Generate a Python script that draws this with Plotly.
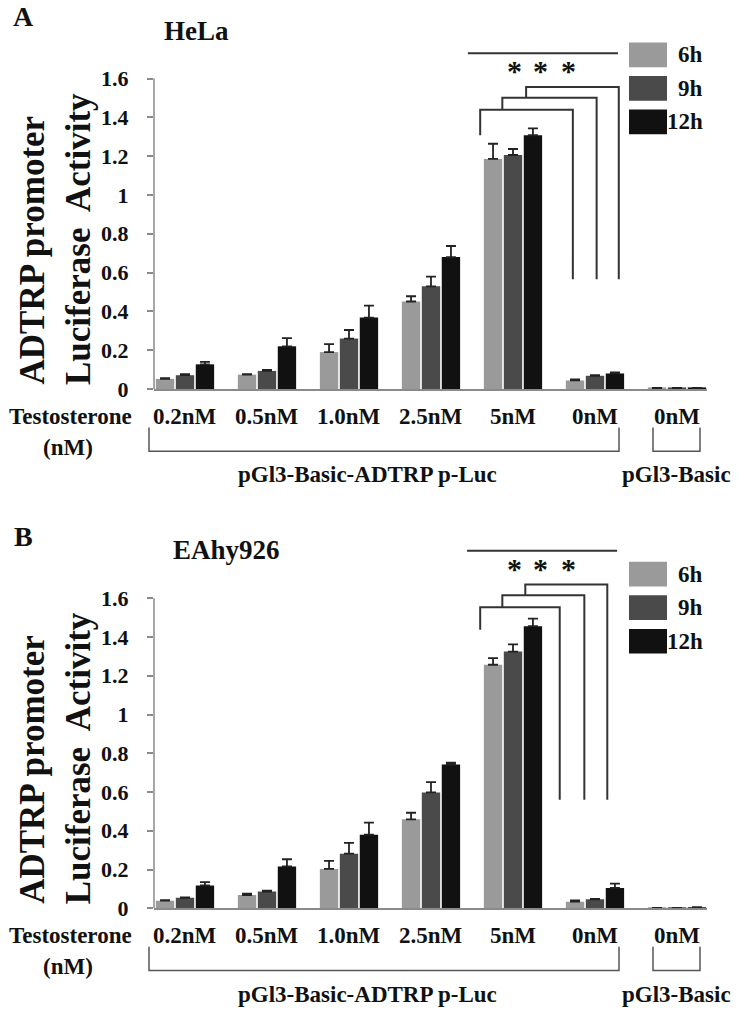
import plotly.graph_objects as go

W, H = 740, 1020

# ---------------- data ----------------
categories = ["0.2nM", "0.5nM", "1.0nM", "2.5nM", "5nM", "0nM", "0nM"]
series = ["6h", "9h", "12h"]
colors = ["#9a9a9a", "#4a4a4a", "#111111"]

hela_6h = [0.052, 0.074, 0.190, 0.451, 1.186, 0.044, 0.005]
hela_9h = [0.071, 0.093, 0.260, 0.529, 1.206, 0.068, 0.005]
hela_12h = [0.127, 0.220, 0.368, 0.680, 1.308, 0.080, 0.005]
hela_6h_err = [0.004, 0.003, 0.041, 0.027, 0.078, 0.005, 0.001]
hela_9h_err = [0.005, 0.005, 0.044, 0.050, 0.031, 0.003, 0.001]
hela_12h_err = [0.013, 0.042, 0.062, 0.057, 0.035, 0.005, 0.001]

eahy_6h = [0.039, 0.068, 0.203, 0.459, 1.257, 0.034, 0.002]
eahy_9h = [0.054, 0.086, 0.282, 0.598, 1.325, 0.046, 0.002]
eahy_12h = [0.118, 0.216, 0.380, 0.742, 1.456, 0.105, 0.005]
eahy_6h_err = [0.003, 0.008, 0.042, 0.034, 0.034, 0.006, 0.000]
eahy_9h_err = [0.002, 0.005, 0.056, 0.053, 0.037, 0.003, 0.000]
eahy_12h_err = [0.017, 0.037, 0.062, 0.010, 0.039, 0.022, 0.001]

ytick_vals = [0, 0.2, 0.4, 0.6, 0.8, 1.0, 1.2, 1.4, 1.6]
ytick_text = ["0", "0.2", "0.4", "0.6", "0.8", "1", "1.2", "1.4", "1.6"]

FONT = "Liberation Serif"
AXC = "#8a8a8a"
LINEC = "#333333"


def px(x):
    return x / W


def py(y):
    return 1 - y / H


fig = go.Figure()

panels = [
    dict(x="x", y="y", vals=[hela_6h, hela_9h, hela_12h],
         errs=[hela_6h_err, hela_9h_err, hela_12h_err]),
    dict(x="x2", y="y2", vals=[eahy_6h, eahy_9h, eahy_12h],
         errs=[eahy_6h_err, eahy_9h_err, eahy_12h_err]),
]
xpos = list(range(len(categories)))
for p in panels:
    for name, col, v, e in zip(series, colors, p["vals"], p["errs"]):
        fig.add_trace(go.Bar(
            x=xpos, y=v, name=name, xaxis=p["x"], yaxis=p["y"],
            marker=dict(color=col, line=dict(width=0)),
            error_y=dict(type="data", symmetric=False, array=e,
                         arrayminus=[0] * len(e), color="#222222",
                         thickness=1.8, width=5),
            showlegend=False, hoverinfo="skip",
        ))

xdom = [px(154), px(707)]
xrange_ = [-0.378, 6.366]
# panel A: zero at 394 px; panel B: zero at 920 px
yA = [py(394), py(394 - 1.9 * 196.5)]
yB = [py(920), py(920 - 1.9 * 196.25)]

common_x = dict(range=xrange_, showgrid=False, zeroline=False, showline=True,
                linecolor=AXC, linewidth=1.5, ticks="", showticklabels=False,
                fixedrange=True)
common_y = dict(range=[0, 1.9], showgrid=False, zeroline=False, showline=False,
                ticks="outside", ticklen=6, tickwidth=1.5, tickcolor=AXC,
                tickvals=ytick_vals, ticktext=ytick_text, ticklabelstandoff=14,
                fixedrange=True,
                tickfont=dict(family=FONT, size=22, color="#111", weight="bold"))

fig.update_layout(
    width=W, height=H, margin=dict(l=0, r=0, t=0, b=0), autosize=False,
    paper_bgcolor="white", plot_bgcolor="white",
    font=dict(family=FONT, color="#111", weight="bold"),
    barmode="group", bargap=0.27, bargroupgap=0.08,
    xaxis=dict(domain=xdom, anchor="y", **common_x),
    yaxis=dict(domain=yA, anchor="x", **common_y),
    xaxis2=dict(domain=xdom, anchor="y2", **common_x),
    yaxis2=dict(domain=yB, anchor="x2", **common_y),
)

shapes = []
annos = []


def text(x, y, t, size, xref="paper", yref="paper", xanchor="center",
         yanchor="middle", angle=0):
    annos.append(dict(xref=xref, yref=yref, x=x, y=y, text=t, showarrow=False,
                      xanchor=xanchor, yanchor=yanchor, textangle=angle,
                      font=dict(family=FONT, size=size, color="#111",
                                weight="bold")))


# y-axis lines (only up to 1.6)
for xr, yr in [("x domain", "y"), ("x2 domain", "y2")]:
    shapes.append(dict(type="line", xref=xr, yref=yr, x0=0, x1=0, y0=0, y1=1.6,
                       line=dict(color=AXC, width=1.5)))

# significance brackets (category units, value units)
sig = [
    dict(xr="x", yr="y", top=(3.45, 5.28, 1.73), star_y=1.64,
         brackets=[(3.60, 4.73, 1.440, 1.308), (3.87, 5.02, 1.501, 1.440),
                   (4.16, 5.29, 1.557, 1.501)], bottom=0.565),
    dict(xr="x2", yr="y2", top=(3.44, 5.27, 1.845), star_y=1.755,
         brackets=[(3.60, 4.57, 1.554, 1.437), (3.87, 4.87, 1.615, 1.554),
                   (4.15, 5.15, 1.671, 1.615)], bottom=0.56),
]
for s in sig:
    x0, x1, yt = s["top"]
    shapes.append(dict(type="line", xref=s["xr"], yref=s["yr"], x0=x0, x1=x1,
                       y0=yt, y1=yt, line=dict(color=LINEC, width=2)))
    for (bx0, bx1, by, bleft) in s["brackets"]:
        shapes.append(dict(type="path", xref=s["xr"], yref=s["yr"],
                           path=f"M {bx0} {bleft} L {bx0} {by} L {bx1} {by} L {bx1} {s['bottom']}",
                           line=dict(color=LINEC, width=2)))
    for sx in [4.02, 4.33, 4.68]:
        text(sx, s["star_y"], "*", 30, xref=s["xr"], yref=s["yr"])

# per-panel decorations (pixel offsets)
for off, letter, title, tx, xr in [(0, "A", "HeLa", 196, "x"),
                                     (526, "B", "EAhy926", 226, "x2")]:
    text(px(23), py(17 + off), letter, 28)
    text(px(tx), py(31 + off), title, 27)
    # y-axis title, two lines, bottom aligned
    text(px(33), py(392 + off), "ADTRP promoter", 35, yanchor="bottom", angle=-90)
    text(px(78), py(392 + off), "Luciferase  Activity", 35, yanchor="bottom",
         angle=-90)
    # category labels
    for i, c in enumerate(categories):
        text(i, py(422 + off), c, 23, xref=xr)
    text(px(70), py(422 + off), "Testosterone", 23)
    text(px(68), py(453 + off), "(nM)", 23)
    text(px(367), py(481 + off), "pGl3-Basic-ADTRP p-Luc", 23)
    text(px(676), py(481 + off), "pGl3-Basic", 23)
    # grouping brackets under labels
    for (bx0, bx1) in [(149, 619), (653, 700)]:
        shapes.append(dict(type="path", xref="paper", yref="paper",
                           path=(f"M {px(bx0)} {py(433 + off)} L {px(bx0)} {py(457 + off)} "
                                 f"L {px(bx1)} {py(457 + off)} L {px(bx1)} {py(433 + off)}"),
                           line=dict(color="#555", width=1.5)))
    # legend boxes
    for (name, col, ytop) in [("6h", colors[0], 43), ("9h", colors[1], 77),
                              ("12h", colors[2], 111)]:
        shapes.append(dict(type="rect", xref="paper", yref="paper",
                           x0=px(629), x1=px(667), y0=py(ytop + off),
                           y1=py(ytop + 25 + off), fillcolor=col,
                           line=dict(width=0)))
        text(px(705), py(ytop + 12.5 + off), name, 23, xanchor="right")

fig.update_layout(shapes=shapes, annotations=annos)
fig.write_html(
    "out.html",
    config={"displayModeBar": False},
    post_script="document.body.style.margin='0px';document.body.style.overflow='hidden';",
)
